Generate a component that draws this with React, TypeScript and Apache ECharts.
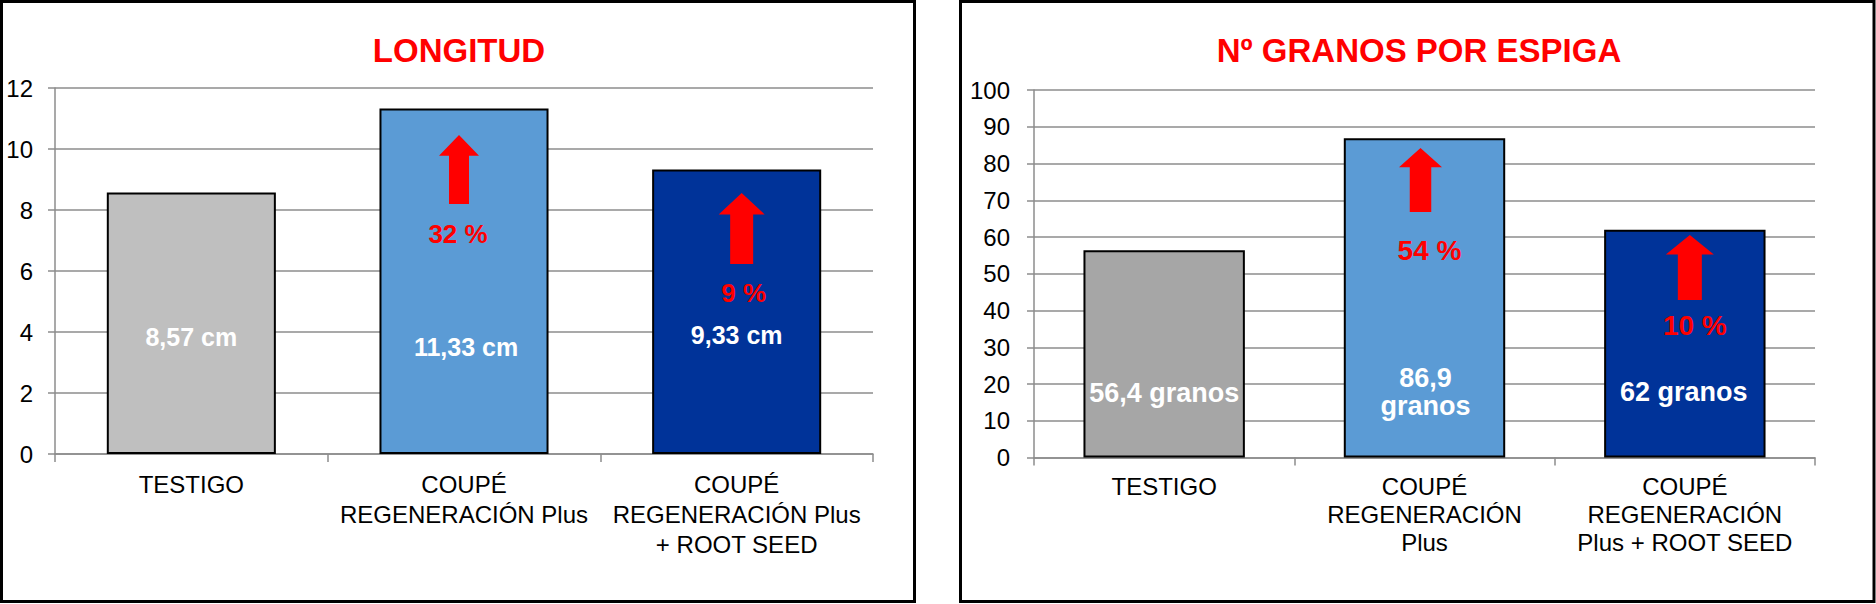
import * as echarts from 'echarts';
import { useEffect, useRef } from 'react';

// left chart: longitud
const longCats = ['TESTIGO', 'COUPÉ\nREGENERACIÓN Plus', 'COUPÉ\nREGENERACIÓN Plus\n+ ROOT SEED'];
const longValues = [8.57, 11.33, 9.33];
const longLabels = ['8,57 cm', '11,33 cm', '9,33 cm'];
const longLabelY = [3.84, 3.51, 3.9];
const longPctCats = [1, 2];
const longPctText = ['32 %', '9 %'];
const longPctY = [7.2, 5.28];
const longArrowY = [9.33, 7.39];

// right chart: granos por espiga
const granCats = ['TESTIGO', 'COUPÉ\nREGENERACIÓN\nPlus', 'COUPÉ\nREGENERACIÓN\nPlus + ROOT SEED'];
const granValues = [56.4, 86.9, 62];
const granLabels = ['56,4 granos', '86,9\ngranos', '62 granos'];
const granLabelY = [17.6, 17.7, 17.8];
const granPctCats = [1, 2];
const granPctText = ['54 %', '10 %'];
const granPctY = [56.2, 35.8];
const granArrowY = [75.5, 51.7];

const longColors = ['#BFBFBF', '#5B9BD5', '#003399'];
const granColors = ['#A6A6A6', '#5B9BD5', '#003399'];

const FONT = '"Liberation Sans", Arial, sans-serif';
const ARROW = 'path://M5,0 L10,3 L7.5,3 L7.5,10 L2.5,10 L2.5,3 L0,3 Z';
const GRID_GRAY = '#8c8c8c';

const App = () => {
    const chartRef = useRef<HTMLDivElement>(null);

    useEffect(() => {
        if (!chartRef.current) return;
        const chart = echarts.init(chartRef.current, null, { renderer: 'svg' });

        const xAxisBase = (cats: string[], gridIndex: number, lineHeight: number, margin: number) => ({
            type: 'category',
            gridIndex,
            data: cats,
            axisLine: { lineStyle: { color: GRID_GRAY, width: 1.5 } },
            axisTick: { show: true, length: 8, alignWithLabel: false, lineStyle: { color: GRID_GRAY, width: 1.5 } },
            axisLabel: { color: '#000', fontSize: 24, fontFamily: FONT, lineHeight, margin, interval: 0 },
        });

        const yAxisBase = (gridIndex: number, max: number, interval: number, margin: number) => ({
            type: 'value',
            gridIndex,
            min: 0,
            max,
            interval,
            axisLine: { show: true, lineStyle: { color: GRID_GRAY, width: 1.5 } },
            axisTick: { show: true, length: 7, lineStyle: { color: GRID_GRAY, width: 1.5 } },
            axisLabel: { color: '#000', fontSize: 24, fontFamily: FONT, margin },
            splitLine: { lineStyle: { color: GRID_GRAY, width: 1.5 } },
        });

        const barSeries = (values: number[], colors: string[], idx: number) => ({
            type: 'bar',
            xAxisIndex: idx,
            yAxisIndex: idx,
            barWidth: '62%',
            data: values.map((v, i) => ({
                value: v,
                itemStyle: { color: colors[i], borderColor: '#000', borderWidth: 2 },
            })),
        });

        const textSeries = (
            idx: number, cats: number[], ys: number[], texts: string[],
            color: string, fontSize: number, dx: number[],
        ) => ({
            type: 'scatter',
            xAxisIndex: idx,
            yAxisIndex: idx,
            symbolSize: 1,
            itemStyle: { color: 'rgba(0,0,0,0)', opacity: 1 },
            z: 5,
            data: cats.map((c, i) => ({
                value: [c, ys[i]],
                label: {
                    show: true,
                    position: 'inside',
                    formatter: texts[i],
                    color,
                    opacity: 1,
                    fontSize,
                    fontWeight: 'bold',
                    fontFamily: FONT,
                    lineHeight: fontSize + 1,
                    offset: [dx[i], 0],
                },
            })),
        });

        const arrowSeries = (idx: number, cats: number[], ys: number[], sizes: number[][], dx: number[]) => ({
            type: 'scatter',
            xAxisIndex: idx,
            yAxisIndex: idx,
            z: 4,
            data: cats.map((c, i) => ({
                value: [c, ys[i]],
                symbol: ARROW,
                symbolSize: sizes[i],
                symbolOffset: [dx[i], 0],
                itemStyle: { color: '#FF0000', opacity: 1 },
            })),
        });

        chart.setOption({
            animation: false,
            silent: true,
            textStyle: { fontFamily: FONT },
            grid: [
                { left: 55, right: 1876 - 873, top: 88, bottom: 604 - 454 },
                { left: 1034, right: 1876 - 1815, top: 90, bottom: 604 - 457.5 },
            ],
            xAxis: [xAxisBase(longCats, 0, 30, 15), xAxisBase(granCats, 1, 28, 14.5)],
            yAxis: [yAxisBase(0, 12, 2, 22), yAxisBase(1, 100, 10, 24)],
            graphic: [
                { type: 'rect', shape: { x: 1.5, y: 1.5, width: 913, height: 600 }, style: { fill: 'none', stroke: '#000', lineWidth: 3 } },
                { type: 'rect', shape: { x: 960.5, y: 1.5, width: 913.5, height: 600 }, style: { fill: 'none', stroke: '#000', lineWidth: 3 } },
                {
                    type: 'text', x: 459, y: 50,
                    style: { text: 'LONGITUD', fontSize: 33, fontWeight: 'bold', fill: '#FF0000', fontFamily: FONT, align: 'center', verticalAlign: 'middle' },
                },
                {
                    type: 'text', x: 1419, y: 50,
                    style: { text: 'Nº GRANOS POR ESPIGA', fontSize: 33, fontWeight: 'bold', fill: '#FF0000', fontFamily: FONT, align: 'center', verticalAlign: 'middle' },
                },
            ],
            series: [
                barSeries(longValues, longColors, 0),
                barSeries(granValues, granColors, 1),
                textSeries(0, [0, 1, 2], longLabelY, longLabels, '#fff', 25, [0, 2, 0]),
                textSeries(1, [0, 1, 2], granLabelY, granLabels, '#fff', 27, [0, 1, -1]),
                textSeries(0, longPctCats, longPctY, longPctText, '#FF0000', 26, [-6, 7]),
                textSeries(1, granPctCats, granPctY, granPctText, '#FF0000', 28, [5, 10]),
                arrowSeries(0, longPctCats, longArrowY, [[40, 69], [46, 71]], [-5, 5]),
                arrowSeries(1, granPctCats, granArrowY, [[43, 64], [48, 65]], [-4, 5]),
            ],
        });

        const onResize = () => chart.resize();
        window.addEventListener('resize', onResize);
        return () => {
            window.removeEventListener('resize', onResize);
            chart.dispose();
        };
    }, []);

    return (
        <div
            ref={chartRef}
            style={{ position: 'absolute', left: 0, top: 0, width: 1876, height: 604, background: '#fff' }}
        />
    );
};

export default App;
